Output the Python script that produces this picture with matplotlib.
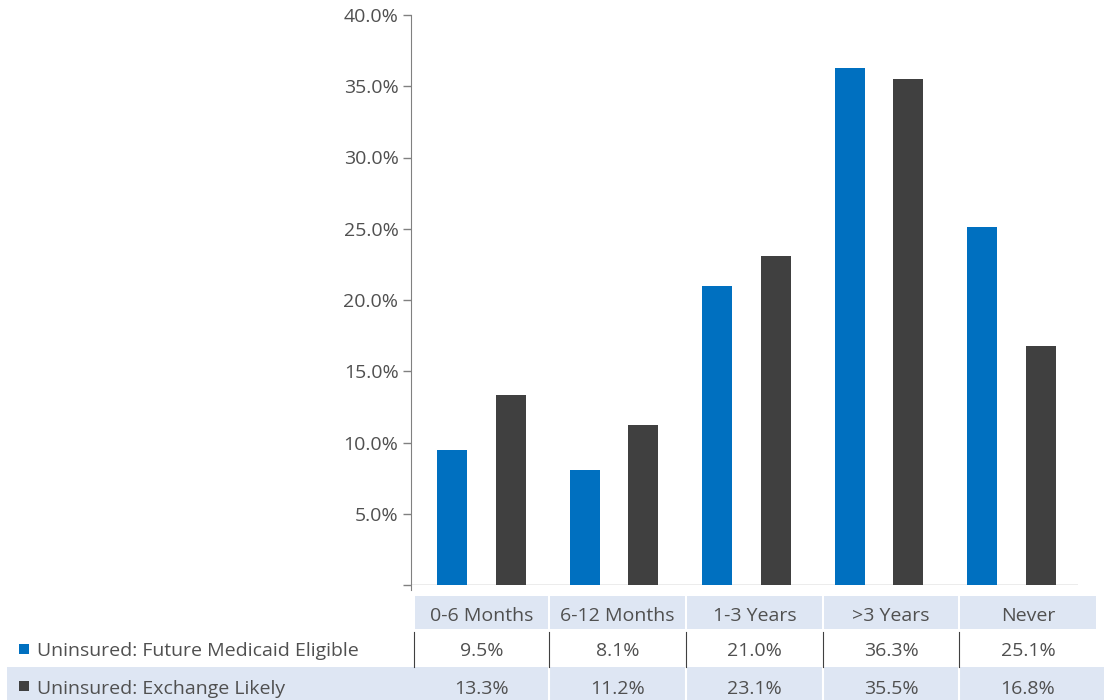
import matplotlib.pyplot as plt
import matplotlib.patches as mpatches
import numpy as np
from matplotlib.ticker import FuncFormatter

# data
categories = ['0-6 Months', '6-12 Months', '1-3 Years', '>3 Years', 'Never']
series_names = ['Uninsured: Future Medicaid Eligible', 'Uninsured: Exchange Likely']
medicaid_eligible = [9.5, 8.1, 21.0, 36.3, 25.1]
exchange_likely = [13.3, 11.2, 23.1, 35.5, 16.8]
yticks = [0, 5, 10, 15, 20, 25, 30, 35, 40]

blue = '#0070C0'
dark = '#404040'
text_c = '#505050'
cell_c = '#DEE6F3'
fs = 14

plt.rcParams['font.family'] = ['Open Sans', 'DejaVu Sans']

W, H = 1104, 700
fig = plt.figure(figsize=(W / 100, H / 100), dpi=100)

# main bar axes (placed in pixels)
ax_l, ax_r, ax_t, ax_b = 411, 1078, 15, 585
ax = fig.add_axes([ax_l / W, 1 - ax_b / H, (ax_r - ax_l) / W, (ax_b - ax_t) / H])
x = np.arange(len(categories))
bw = 0.226
ax.bar(x - 0.221, medicaid_eligible, bw, color=blue, zorder=3)
ax.bar(x + 0.221, exchange_likely, bw, color=dark, zorder=3)
ax.set_xlim(-0.53, 4.5)
ax.set_ylim(0, 40)
ax.set_yticks(yticks)
ax.yaxis.set_major_formatter(FuncFormatter(lambda v, p: '' if v == 0 else f'{v:.1f}%'))
ax.tick_params(axis='y', length=6, width=1, color='#808080', labelcolor=text_c,
               labelsize=fs, pad=3)
ax.set_xticks([])
for s in ['top', 'right', 'bottom']:
    ax.spines[s].set_visible(False)
ax.spines['left'].set_color('#808080')
ax.spines['left'].set_bounds(-0.35, 40)
ax.axhline(0, color='#a0a0a0', lw=1, zorder=2)

# data table below the chart, drawn on an overlay in pixel units
tb = fig.add_axes([0, 0, 1, 1], zorder=-1)
tb.set_xlim(0, W)
tb.set_ylim(H, 0)
tb.axis('off')

col_edges = [414, 549, 686, 823, 959, 1097]
header_top, row1_top, row2_top, bottom = 596, 630, 667, 700

# header cells and second row background
for i in range(len(categories)):
    x0, x1 = col_edges[i], col_edges[i + 1]
    tb.add_patch(mpatches.Rectangle((x0 + 1, header_top), x1 - x0 - 2, row1_top - header_top - 1,
                                    color=cell_c, lw=0))
    tb.text((x0 + x1) / 2, (header_top + row1_top) / 2 + 1, categories[i], ha='center',
            va='center_baseline', fontsize=fs, color=text_c)
tb.add_patch(mpatches.Rectangle((7, row2_top), W - 7, bottom - row2_top, color=cell_c, lw=0))
for e in col_edges[1:-1]:
    tb.plot([e, e], [row2_top, bottom], color='white', lw=1.5)
    tb.plot([e, e], [row1_top + 2, row2_top], color='#404040', lw=0.8)
tb.plot([col_edges[0], col_edges[0]], [row1_top + 2, row2_top], color='#404040', lw=0.8)

rows = [(medicaid_eligible, blue, row1_top), (exchange_likely, dark, row2_top)]
for (vals, c, top), name in zip(rows, series_names):
    ymid = top + (row2_top - row1_top) / 2
    tb.add_patch(mpatches.Rectangle((19, ymid - 5), 10, 10, color=c, lw=0))
    tb.text(37, ymid + 1, name, ha='left', va='center_baseline', fontsize=fs, color=text_c)
    for i, v in enumerate(vals):
        tb.text((col_edges[i] + col_edges[i + 1]) / 2, ymid + 1, f'{v:.1f}%', ha='center',
                va='center_baseline', fontsize=fs, color=text_c)

fig.savefig('out.png', dpi=100)
